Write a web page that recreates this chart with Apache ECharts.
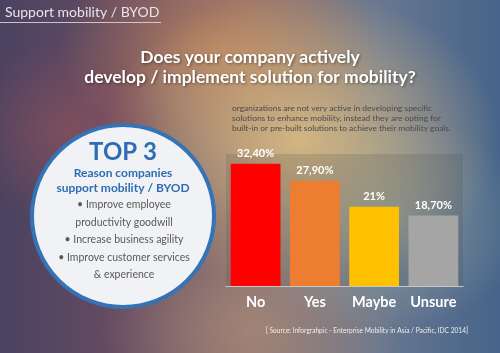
<!DOCTYPE html>
<html>
<head>
<meta charset="utf-8">
<script src="https://cdn.jsdelivr.net/npm/echarts@6/dist/echarts.min.js"></script>
<style>
  html, body { margin: 0; padding: 0; }
  #chart {
    width: 500px; height: 353px;
    background:
      radial-gradient(ellipse 110px 90px at 70px 130px, rgba(160,85,90,0.5), rgba(160,85,90,0) 100%),
      radial-gradient(ellipse 200px 150px at 300px 140px, rgba(215,185,130,0.95), rgba(215,185,130,0) 100%),
      radial-gradient(ellipse 150px 110px at 380px 220px, rgba(150,170,160,0.7), rgba(150,170,160,0) 100%),
      radial-gradient(ellipse 160px 110px at 220px 50px, rgba(190,130,90,0.8), rgba(190,130,90,0) 100%),
      radial-gradient(ellipse 150px 110px at 250px 330px, rgba(170,140,120,0.7), rgba(170,140,120,0) 100%),
      linear-gradient(90deg, #4a4260 0%, #674c62 25%, #8a7070 50%, #6a7890 75%, #46648a 100%);
  }
</style>
</head>
<body>
<div id="chart"></div>
<script>
  var categories = ['No', 'Yes', 'Maybe', 'Unsure'];
  var values = [32.4, 27.9, 21, 18.7];
  var valueLabels = ['32,40%', '27,90%', '21%', '18,70%'];
  var barColors = ['#ff0000', '#ed7d31', '#ffc000', '#a5a5a5'];

  var header = 'Support mobility / BYOD';
  var titleLines = ['Does your company actively', 'develop / implement solution for mobility?'];
  var note = [
    'organizations are not very active in developing specific',
    'solutions to enhance mobility, instead they are opting for',
    'built-in or pre-built solutions to achieve their mobility goals.'
  ];
  var topTitle = 'TOP 3';
  var topSub = ['Reason companies', 'support mobility / BYOD'];
  var bullets = ['\u2022 Improve employee', 'productivity goodwill', '\u2022 Increase business agility', '\u2022 Improve customer services', '& experience'];
  var source = '[ Source: Inforgrahpic - Enterprise Mobility in Asia / Pacific, IDC 2014]';

  var mychart = echarts.init(document.getElementById('chart'));

  var graphics = [];
  graphics.push({ type: 'text', x: 5, y: 12, style: { text: header, fill: '#e8e4ec', font: '14px Lato', verticalAlign: 'middle' } });
  graphics.push({ type: 'line', shape: { x1: 0, y1: 22.5, x2: 161, y2: 22.5 }, style: { stroke: 'rgba(230,225,235,0.8)', lineWidth: 1 } });
  titleLines.forEach(function (t, i) {
    graphics.push({ type: 'text', x: 250, y: 57 + i * 20, style: {
      text: t, fill: '#ffffff', font: 'bold 17.5px Lato', align: 'center', verticalAlign: 'middle',
      textShadowColor: 'rgba(0,0,0,0.45)', textShadowBlur: 3, textShadowOffsetX: 1, textShadowOffsetY: 1 } });
  });
  note.forEach(function (t, i) {
    graphics.push({ type: 'text', x: 232, y: 108 + i * 10, style: {
      text: t, fill: '#4a4a4e', font: '8.4px Lato', verticalAlign: 'middle' } });
  });
  graphics.push({ type: 'circle', shape: { cx: 123, cy: 216, r: 91 }, style: { fill: '#f1f2f5', stroke: '#3473b5', lineWidth: 4 } });
  graphics.push({ type: 'text', x: 123, y: 152, style: { text: topTitle, fill: '#2e6db4', font: 'bold 24px Lato', align: 'center', verticalAlign: 'middle' } });
  topSub.forEach(function (t, i) {
    graphics.push({ type: 'text', x: 123, y: 173 + i * 15, style: { text: t, fill: '#2e6db4', font: 'bold 12px Lato', align: 'center', verticalAlign: 'middle' } });
  });
  bullets.forEach(function (t, i) {
    graphics.push({ type: 'text', x: 124, y: 205 + i * 17.5, style: { text: t, fill: '#5a5a5a', font: '10.5px Lato', align: 'center', verticalAlign: 'middle' } });
  });
  graphics.push({ type: 'text', x: 468, y: 331, style: { text: source, fill: '#f0eee8', font: '6.6px Lato', align: 'right', verticalAlign: 'middle' } });

  var option = {
    animation: false,
    backgroundColor: 'transparent',
    grid: {
      left: 226, right: 37, top: 154, bottom: 67,
      show: true, backgroundColor: 'rgba(70,70,70,0.18)', borderWidth: 0
    },
    xAxis: {
      type: 'category',
      data: categories,
      axisLine: { lineStyle: { color: '#c8c8c8', width: 1 } },
      axisTick: { show: false },
      axisLabel: { interval: 0, color: '#ffffff', fontSize: 14.5, fontWeight: 'bold', fontFamily: 'Lato', margin: 9 }
    },
    yAxis: {
      type: 'value', min: 0, max: 35,
      show: false
    },
    series: [{
      type: 'bar',
      data: values.map(function (v, i) { return { value: v, itemStyle: { color: barColors[i] } }; }),
      barCategoryGap: '16%',
      label: {
        show: true, position: 'top', distance: 5,
        color: '#ffffff', fontSize: 11, fontWeight: 'bold', fontFamily: 'Lato',
        formatter: function (p) { return valueLabels[p.dataIndex]; }
      }
    }],
    graphic: graphics
  };
  mychart.setOption(option);
</script>
</body>
</html>
